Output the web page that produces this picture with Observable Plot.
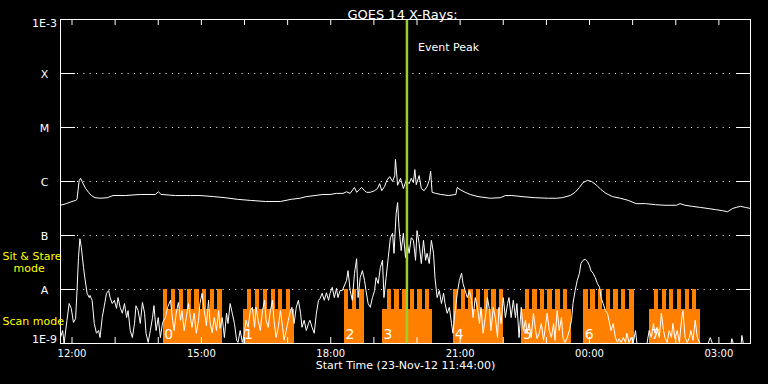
<!DOCTYPE html>
<html><head><meta charset="utf-8">
<script src="https://cdn.jsdelivr.net/npm/d3@7"></script>
<script src="https://cdn.jsdelivr.net/npm/@observablehq/plot@0.6"></script>
<style>html,body{margin:0;padding:0;background:#000;} svg{display:block;}</style>
</head><body><div id="chart"></div>
<script>
// ---------- data ----------
const title = "GOES 14 X-Rays:";
const xTitle = "Start Time (23-Nov-12 11:44:00)";
const startTime = new Date(Date.UTC(2012, 10, 23, 11, 44));
const endTime = new Date(Date.UTC(2012, 10, 24, 3, 44));
const peakTime = "19:46";

const yTickValues = [1e-9, 1e-8, 1e-7, 1e-6, 1e-5, 1e-4, 1e-3];
const yTickLabels = ["1E-9", "A", "B", "C", "M", "X", "1E-3"];
const xTickLabels = ["12:00", "15:00", "18:00", "21:00", "00:00", "03:00"];

const sitLevel = 1e-8;    // sit & stare bars reach the A level
const scanLevel = 4.3e-9; // scan mode bars

const blockLabels = ["0", "1", "2", "3", "4", "5", "6", "7"];
const blockStarts = ["14:07", "15:58", "18:19", "19:12", "20:51", "22:26", "23:52", "01:24"];
const blockEnds   = ["15:29", "17:09", "18:47", "20:21", "22:01", "23:35", "01:02", "02:34"];

const sitIntervals = [
  ["14:07","14:13"],["14:18","14:24"],["14:29","14:35"],["14:40","14:46"],["14:51","14:57"],["15:01","15:07"],["15:12","15:18"],["15:23","15:29"],
  ["16:04","16:10"],["16:15","16:21"],["16:26","16:32"],["16:37","16:43"],["16:47","16:53"],["16:58","17:04"],
  ["18:19","18:25"],["18:30","18:36"],["18:40","18:47"],
  ["19:19","19:25"],["19:29","19:35"],["19:40","19:46"],["19:51","19:57"],["20:01","20:07"],["20:12","20:18"],
  ["20:51","20:57"],["21:02","21:08"],["21:12","21:18"],["21:23","21:29"],["21:34","21:40"],["21:44","21:50"],["21:55","22:01"],
  ["22:31","22:37"],["22:41","22:47"],["22:52","22:58"],["23:02","23:08"],["23:13","23:19"],["23:24","23:30"],
  ["23:52","23:58"],["00:02","00:08"],["00:12","00:18"],["00:23","00:29"],["00:34","00:40"],["00:44","00:50"],["00:55","01:02"],
  ["01:30","01:36"],["01:41","01:47"],["01:51","01:57"],["02:02","02:08"],["02:13","02:19"],["02:23","02:29"]
];

// [minutes after start, log10 flux]
const longChannel = [[0,-6.44],[8,-6.41],[16,-6.37],[21,-6.35],[23,-6.33],[26,-5.98],[28,-5.94],[30,-6.00],[35,-6.13],[39,-6.20],[43,-6.26],[48,-6.30],[55,-6.31],[65,-6.30],[73,-6.26],[90,-6.26],[111,-6.24],[132,-6.24],[136,-6.19],[140,-6.24],[160,-6.26],[181,-6.26],[194,-6.26],[213,-6.28],[229,-6.30],[246,-6.33],[264,-6.35],[285,-6.37],[306,-6.37],[321,-6.33],[333,-6.31],[342,-6.28],[354,-6.26],[365,-6.24],[375,-6.24],[384,-6.22],[393,-6.22],[398,-6.19],[403,-6.22],[409,-6.11],[412,-6.20],[416,-6.15],[419,-6.11],[423,-6.17],[426,-6.20],[431,-6.20],[437,-6.17],[441,-6.13],[444,-6.04],[447,-6.17],[451,-6.09],[454,-5.98],[458,-5.91],[462,-6.00],[465,-5.89],[466,-5.59],[469,-6.07],[473,-5.94],[477,-6.13],[481,-5.98],[485,-6.04],[488,-5.94],[491,-6.02],[493,-5.78],[495,-6.06],[499,-5.89],[502,-6.13],[506,-6.17],[510,-6.09],[513,-5.98],[515,-5.81],[517,-6.20],[522,-6.22],[529,-6.24],[540,-6.26],[550,-6.24],[552,-6.11],[556,-6.15],[563,-6.20],[570,-6.24],[581,-6.28],[598,-6.31],[612,-6.30],[619,-6.26],[628,-6.26],[642,-6.28],[660,-6.30],[679,-6.31],[690,-6.31],[698,-6.30],[709,-6.26],[716,-6.20],[722,-6.11],[727,-6.02],[733,-5.98],[739,-6.00],[746,-6.07],[752,-6.15],[759,-6.22],[768,-6.28],[779,-6.31],[790,-6.35],[801,-6.41],[814,-6.41],[828,-6.43],[841,-6.44],[857,-6.44],[862,-6.41],[869,-6.44],[879,-6.46],[890,-6.48],[901,-6.50],[911,-6.52],[921,-6.54],[928,-6.56],[935,-6.50],[940,-6.48],[946,-6.46],[953,-6.48],[960,-6.50]];

const shortChannel = [[0,-8.89],[3,-8.76],[5,-9.00],[9,-8.57],[12,-8.26],[15,-8.35],[18,-8.61],[21,-8.54],[23,-8.02],[25,-7.41],[27,-7.06],[29,-7.22],[32,-7.59],[34,-7.80],[37,-8.07],[40,-8.15],[41,-8.11],[44,-8.20],[47,-8.63],[50,-8.81],[53,-8.76],[55,-8.89],[58,-8.52],[61,-8.30],[64,-8.07],[67,-8.02],[69,-8.15],[72,-8.26],[75,-8.20],[78,-8.35],[80,-8.15],[83,-8.33],[86,-8.44],[89,-8.26],[92,-8.52],[94,-8.39],[97,-8.76],[100,-8.89],[103,-8.63],[105,-8.30],[108,-8.39],[111,-8.63],[114,-8.24],[117,-8.44],[119,-8.81],[122,-8.98],[125,-8.76],[128,-8.52],[130,-8.30],[133,-8.76],[136,-8.52],[139,-8.89],[142,-8.61],[146,-8.52],[149,-8.33],[153,-8.20],[156,-8.57],[158,-8.76],[161,-8.44],[164,-8.24],[167,-8.57],[169,-8.39],[172,-8.76],[175,-8.52],[178,-8.26],[181,-8.54],[183,-8.70],[186,-8.44],[189,-8.81],[192,-8.57],[194,-8.26],[197,-8.07],[200,-8.39],[203,-8.67],[206,-8.20],[208,-8.61],[211,-8.80],[214,-8.52],[217,-8.76],[220,-8.39],[222,-8.72],[225,-8.52],[228,-8.89],[231,-8.44],[233,-8.63],[236,-8.26],[239,-8.44],[242,-8.63],[245,-8.94],[247,-8.98],[250,-8.76],[253,-8.98],[256,-8.81],[258,-8.57],[261,-8.70],[264,-8.39],[267,-8.33],[270,-8.70],[272,-8.33],[275,-8.57],[278,-8.76],[281,-8.39],[284,-8.20],[286,-8.57],[289,-8.70],[292,-8.39],[295,-8.20],[297,-8.57],[300,-8.89],[303,-8.70],[306,-8.39],[309,-8.70],[311,-8.94],[314,-8.76],[317,-8.57],[320,-8.39],[322,-8.33],[325,-8.63],[328,-8.33],[331,-8.20],[334,-8.44],[336,-8.70],[339,-8.57],[342,-8.76],[345,-8.63],[347,-8.57],[350,-8.70],[353,-8.81],[356,-8.44],[359,-8.20],[361,-8.17],[364,-8.07],[367,-8.20],[370,-8.06],[373,-8.20],[375,-8.07],[378,-7.96],[381,-8.15],[384,-7.98],[386,-8.15],[389,-8.02],[392,-8.02],[398,-7.83],[400,-7.65],[403,-8.02],[406,-8.20],[409,-7.70],[412,-7.43],[414,-8.15],[417,-7.78],[420,-7.65],[423,-7.83],[425,-8.02],[428,-8.26],[431,-8.33],[434,-8.15],[437,-8.02],[439,-7.78],[442,-7.89],[445,-7.59],[448,-7.46],[450,-8.15],[453,-7.78],[456,-7.41],[459,-7.04],[462,-6.96],[464,-7.33],[467,-6.59],[469,-6.39],[471,-6.85],[474,-7.28],[477,-6.96],[480,-7.41],[482,-7.09],[485,-7.33],[488,-7.04],[491,-7.09],[494,-7.46],[496,-6.91],[499,-7.15],[502,-7.52],[505,-7.09],[508,-7.46],[510,-7.33],[513,-7.52],[516,-7.09],[519,-7.33],[521,-7.78],[524,-8.15],[527,-8.02],[530,-8.26],[533,-8.07],[535,-8.26],[538,-8.44],[541,-8.33],[544,-8.63],[546,-8.81],[549,-8.39],[552,-8.07],[555,-7.83],[558,-7.70],[560,-7.89],[563,-8.02],[566,-8.15],[569,-8.02],[572,-8.20],[574,-8.52],[577,-8.15],[580,-8.33],[583,-8.63],[585,-8.33],[588,-8.81],[591,-8.52],[594,-8.15],[597,-8.39],[599,-8.76],[602,-8.33],[605,-8.52],[608,-8.89],[610,-8.33],[613,-8.63],[616,-8.15],[619,-8.52],[622,-8.26],[624,-8.15],[627,-8.52],[630,-8.20],[633,-8.52],[635,-8.26],[638,-8.89],[641,-8.33],[644,-8.76],[647,-8.57],[649,-8.81],[652,-8.63],[655,-8.89],[658,-8.44],[661,-8.76],[663,-8.91],[666,-8.81],[669,-8.63],[672,-8.94],[674,-8.76],[677,-8.44],[680,-8.76],[683,-8.89],[686,-8.63],[688,-8.94],[691,-8.39],[694,-8.76],[697,-8.52],[699,-8.89],[702,-8.98],[705,-8.89],[708,-8.76],[711,-8.57],[713,-8.26],[716,-8.02],[719,-7.83],[722,-7.70],[724,-7.52],[727,-7.46],[730,-7.44],[733,-7.48],[736,-7.56],[738,-7.65],[741,-7.70],[744,-7.78],[747,-7.89],[750,-7.96],[752,-8.15],[755,-8.26],[758,-8.39],[761,-8.44],[763,-8.57],[766,-8.76],[769,-8.63],[772,-8.89],[775,-8.98],[777,-8.91],[780,-8.98],[783,-8.89],[786,-8.98],[788,-8.81],[791,-8.98],[794,-8.89],[797,-8.98],[800,-8.76],[802,-9.00],[816,-9.00],[819,-8.76],[822,-8.89],[825,-8.63],[827,-8.81],[830,-8.70],[833,-8.89],[836,-8.44],[839,-8.76],[841,-8.89],[844,-8.98],[847,-8.76],[850,-8.89],[852,-8.63],[855,-8.91],[858,-8.76],[861,-8.98],[864,-8.57],[866,-8.39],[869,-8.89],[872,-8.98],[875,-8.89],[877,-8.76],[880,-8.94],[883,-8.57],[886,-8.89],[889,-8.98],[891,-9.00],[901,-9.00],[904,-8.89],[907,-9.00],[933,-9.00],[934,-8.91],[936,-9.00],[947,-9.00],[948,-8.85],[950,-9.00],[960,-9.00]];

// ---------- helpers ----------
function clock(s) {
  const [h, m] = s.split(":").map(Number);
  return new Date(Date.UTC(2012, 10, h < 11 ? 24 : 23, h, m));
}
const fromStart = (min) => new Date(+startTime + min * 60000);

const blocks = blockLabels.map((label, i) => ({label, start: clock(blockStarts[i]), end: clock(blockEnds[i])}));
const teeth = sitIntervals.map(([a, b]) => ({start: clock(a), end: clock(b)}));
const yTicks = yTickValues.map((v, i) => ({value: v, label: yTickLabels[i]}));
const innerLevels = yTickValues.slice(1, -1);
const hourTicks = d3.utcHour.range(startTime, endTime);
const xLabels = xTickLabels.map(s => ({t: clock(s), label: s}));
const peak = clock(peakTime);
const yMin = yTickValues[0];

const orange = "#ff8000";
const white = "#ffffff";
const yellow = "#ffff00";

const chart = Plot.plot({
  width: 768,
  height: 384,
  marginLeft: 60,
  marginRight: 18,
  marginTop: 19,
  marginBottom: 41,
  style: {background: "black", color: "white", fontFamily: "DejaVu Sans", fontSize: "11px"},
  x: {type: "utc", domain: [startTime, endTime], axis: null},
  y: {type: "log", domain: [yTickValues[0], yTickValues[yTickValues.length - 1]], axis: null},
  marks: [
    // dotted grid
    Plot.ruleY(innerLevels, {y: d => d, stroke: white, strokeDasharray: "1,5.33", insetLeft: 17, insetRight: 18}),
    // observation modes
    Plot.rect(blocks, {x1: "start", x2: "end", y1: () => yMin, y2: () => scanLevel, fill: orange, shapeRendering: "crispEdges"}),
    Plot.rect(teeth, {x1: "start", x2: "end", y1: () => yMin, y2: () => sitLevel, fill: orange, shapeRendering: "crispEdges"}),
    // GOES curves
    Plot.line(shortChannel, {x: d => fromStart(d[0]), y: d => Math.pow(10, d[1]), stroke: white, strokeWidth: 1}),
    Plot.line(longChannel, {x: d => fromStart(d[0]), y: d => Math.pow(10, d[1]), stroke: white, strokeWidth: 1}),
    // block numbers
    Plot.text(blocks, {x: "start", y: () => yMin, text: "label", dx: 1, dy: -5, lineAnchor: "bottom", textAnchor: "start", fontSize: 14, fill: white}),
    // event peak
    Plot.ruleX([peak], {x: d => d, stroke: "#9acd32", strokeWidth: 2.5}),
    Plot.text([peak], {x: d => d, frameAnchor: "top", dy: 24, dx: 11, text: () => "Event Peak", textAnchor: "start", fill: white}),
    // frame & ticks
    Plot.frame({stroke: white}),
    Plot.ruleY(innerLevels, {y: d => d, stroke: white, insetRight: 675}),
    Plot.ruleY(innerLevels, {y: d => d, stroke: white, insetLeft: 676}),
    Plot.ruleX(hourTicks, {x: d => d, stroke: white, insetBottom: 318}),
    Plot.ruleX(hourTicks, {x: d => d, stroke: white, insetTop: 318}),
    // y labels
    Plot.text(yTicks.slice(1, -1), {y: "value", text: "label", frameAnchor: "left", dx: -16, dy: 1, textAnchor: "middle", fill: white}),
    Plot.text(yTicks.slice(-1), {y: "value", text: "label", frameAnchor: "left", dx: -16, dy: 4, textAnchor: "middle", fill: white}),
    Plot.text(yTicks.slice(0, 1), {y: "value", text: "label", frameAnchor: "left", dx: -16, dy: -4, textAnchor: "middle", fill: white}),
    // x labels
    Plot.text(xLabels, {x: "t", text: "label", frameAnchor: "bottom", dy: 13, fontSize: 10, fill: white}),
    Plot.text([xTitle], {frameAnchor: "bottom", dy: 25, fill: white}),
    Plot.text([title], {frameAnchor: "top", dy: -9.5, dx: -3, fontSize: 13, fill: white}),
    // mode labels
    Plot.text(["Sit & Stare"], {frameAnchor: "bottom-left", dx: -58, dy: -84, textAnchor: "start", fill: yellow}),
    Plot.text(["mode"], {frameAnchor: "bottom-left", dx: -47, dy: -72, textAnchor: "start", fill: yellow}),
    Plot.text(["Scan mode"], {frameAnchor: "bottom-left", dx: -58, dy: -19, textAnchor: "start", fill: yellow})
  ]
});
document.getElementById("chart").append(chart);
</script>
</body></html>
